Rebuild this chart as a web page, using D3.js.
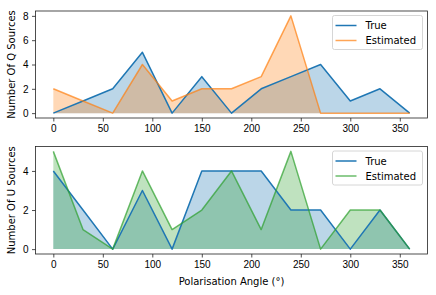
<!DOCTYPE html>
<html>
<head>
<meta charset="utf-8">
<script src="https://cdn.jsdelivr.net/npm/d3@7"></script>
<style>
  body { margin: 0; background: #fff; }
  svg { font-family: "DejaVu Sans", sans-serif; }
  .tick text { font-size: 10px; fill: #000; }
</style>
</head>
<body>
<div id="chart"></div>
<script>
// angles de polarisation (degrés)
const angles = [0, 30, 60, 90, 120, 150, 180, 210, 240, 270, 300, 330, 360];

const qTrue = [0, 1, 2, 5, 0, 3, 0, 2, 3, 4, 1, 2, 0];
const qEstimated = [2, 1, 0, 4, 1, 2, 2, 3, 8, 0, 0, 0, 0];
const uTrue = [4, 2, 0, 3, 0, 4, 4, 4, 2, 2, 0, 2, 0];
const uEstimated = [5, 1, 0, 4, 1, 2, 4, 1, 5, 0, 2, 2, 0];

const xTicks = [0, 50, 100, 150, 200, 250, 300, 350];
const qTicks = [0, 2, 4, 6, 8];
const uTicks = [0, 2, 4];

const width = 436;
const height = 295;

const svg = d3
  .select("#chart")
  .append("svg")
  .attr("width", width)
  .attr("height", height);

const x = d3.scaleLinear().domain([-18, 378]).range([35.5, 427.5]);

const panels = [
  {
    top: 11, bottom: 118, ymax: 8, ylab: "Number Of Q Sources", ticks: qTicks,
    series: [
      { name: "True", values: qTrue, color: "#1f77b4", lineAlpha: 1 },
      { name: "Estimated", values: qEstimated, color: "#ff7f0e", lineAlpha: 0.7 }
    ]
  },
  {
    top: 146.5, bottom: 254, ymax: 5, ylab: "Number Of U Sources", ticks: uTicks,
    series: [
      { name: "True", values: uTrue, color: "#1f77b4", lineAlpha: 1 },
      { name: "Estimated", values: uEstimated, color: "#2ca02c", lineAlpha: 0.7 }
    ]
  }
];

panels.forEach(p => {
  const pad = p.ymax * 0.05;
  const y = d3.scaleLinear().domain([-pad, p.ymax + pad]).range([p.bottom, p.top]);
  const g = svg.append("g");

  const area = d3.area().x(d => x(d[0])).y0(y(0)).y1(d => y(d[1]));
  const line = d3.line().x(d => x(d[0])).y(d => y(d[1]));
  const pts = s => angles.map((a, i) => [a, s.values[i]]);

  // aires d'abord, puis lignes par-dessus
  p.series.forEach(s => {
    g.append("path")
      .attr("d", area(pts(s)))
      .attr("fill", s.color)
      .attr("fill-opacity", 0.3);
  });
  p.series.forEach(s => {
    g.append("path")
      .attr("d", line(pts(s)))
      .attr("fill", "none")
      .attr("stroke", s.color)
      .attr("stroke-opacity", s.lineAlpha)
      .attr("stroke-width", 1.5)
      .attr("stroke-linejoin", "round");
  });

  // cadre
  g.append("rect")
    .attr("x", x.range()[0])
    .attr("y", p.top)
    .attr("width", x.range()[1] - x.range()[0])
    .attr("height", p.bottom - p.top)
    .attr("fill", "none")
    .attr("stroke", "#222")
    .attr("stroke-width", 0.8);

  // axes
  const xAxis = g.append("g")
    .attr("transform", `translate(0,${p.bottom})`)
    .call(d3.axisBottom(x).tickValues(xTicks).tickFormat(d3.format("d")).tickSize(3.5).tickPadding(3.5));
  xAxis.select(".domain").remove();

  const yAxis = g.append("g")
    .attr("transform", `translate(${x.range()[0]},0)`)
    .call(d3.axisLeft(y).tickValues(p.ticks).tickFormat(d3.format("d")).tickSize(3.5).tickPadding(3.5));
  yAxis.select(".domain").remove();

  g.selectAll(".tick line").attr("stroke", "#222").attr("stroke-width", 0.8);

  g.append("text")
    .attr("transform", `translate(11.5,${(p.top + p.bottom) / 2}) rotate(-90)`)
    .attr("text-anchor", "middle")
    .attr("dy", "0.35em")
    .style("font-size", "10px")
    .text(p.ylab);

  // légende
  const lx = 332.5, ly = p.top + 4.5;
  const leg = g.append("g").attr("transform", `translate(${lx},${ly})`);
  leg.append("rect")
    .attr("width", 90)
    .attr("height", 34)
    .attr("rx", 2)
    .attr("fill", "#fff")
    .attr("fill-opacity", 0.8)
    .attr("stroke", "#ccc")
    .attr("stroke-width", 0.8);
  p.series.forEach((s, i) => {
    const yy = 10 + i * 15;
    leg.append("line")
      .attr("x1", 3).attr("x2", 24)
      .attr("y1", yy).attr("y2", yy)
      .attr("stroke", s.color)
      .attr("stroke-opacity", s.lineAlpha)
      .attr("stroke-width", 1.5);
    leg.append("text")
      .attr("x", 33)
      .attr("y", yy)
      .attr("dy", "0.35em")
      .style("font-size", "10px")
      .text(s.name);
  });
});

svg.append("text")
  .attr("x", (x.range()[0] + x.range()[1]) / 2)
  .attr("y", 281)
  .attr("text-anchor", "middle")
  .attr("dy", "0.35em")
  .style("font-size", "10px")
  .text("Polarisation Angle (°)");
</script>
</body>
</html>
